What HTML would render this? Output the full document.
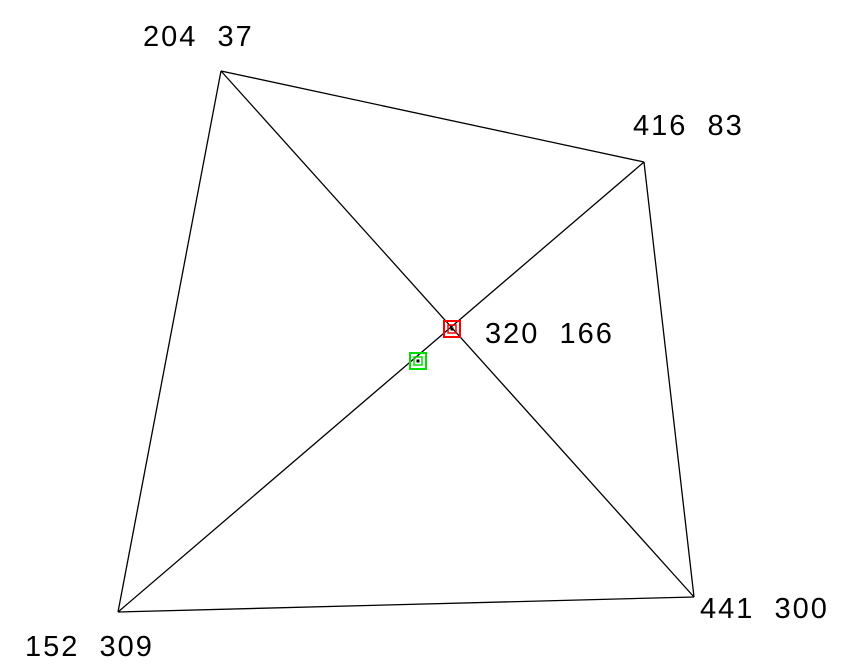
<!DOCTYPE html>
<html><head><meta charset="utf-8"><style>
html,body{margin:0;padding:0;background:#fff;}
svg{display:block;}
text{font-family:"Liberation Sans",sans-serif;font-size:29px;fill:#000;letter-spacing:2px;white-space:pre;}
</style></head><body>
<svg id="chart" width="851" height="672" viewBox="0 0 851 672" xmlns="http://www.w3.org/2000/svg"></svg>
<script>
const cornerX = [221, 644, 694, 118];
const cornerY = [71, 162, 597, 612];
const cornerLabels = ["204  37", "416  83", "441  300", "152  309"];
const centerLabel = "320  166";
const redMarker = [452, 329];
const greenMarker = [418, 361];
const labelX = [143, 633, 700, 25];
const labelY = [46, 135, 618, 656];

const NS = "http://www.w3.org/2000/svg";
const svg = document.getElementById("chart");
function mk(tag, attrs){ const e=document.createElementNS(NS,tag); for(const k in attrs) e.setAttribute(k,attrs[k]); svg.appendChild(e); return e; }

for(let i=0;i<4;i++){
  const j=(i+1)%4;
  const l=mk("line",{x1:cornerX[i],y1:cornerY[i],x2:cornerX[j],y2:cornerY[j],stroke:"#000","stroke-width":1.3});
  
  
}
for(let i=0;i<2;i++){
  const l=mk("line",{x1:cornerX[i],y1:cornerY[i],x2:cornerX[i+2],y2:cornerY[i+2],stroke:"#000","stroke-width":1.3});
  
  
}
function marker(p,color,name){
  const a=mk("rect",{x:p[0]-8,y:p[1]-8,width:16,height:16,fill:"none",stroke:color,"stroke-width":2});
  
  
  mk("rect",{x:p[0]-4,y:p[1]-4,width:8,height:8,fill:"none",stroke:color,"stroke-width":1.5});
  mk("rect",{x:p[0]-1.5,y:p[1]-1.5,width:3,height:3,fill:"#000"});
}
marker(redMarker,"#ff0000","intersection-marker");
marker(greenMarker,"#00e000","green-marker");
for(let i=0;i<4;i++){
  const t=mk("text",{x:labelX[i],y:labelY[i]});
  t.textContent=cornerLabels[i];
  
  
}
const c=mk("text",{x:485,y:343});
c.textContent=centerLabel;


</script>
</body></html>
